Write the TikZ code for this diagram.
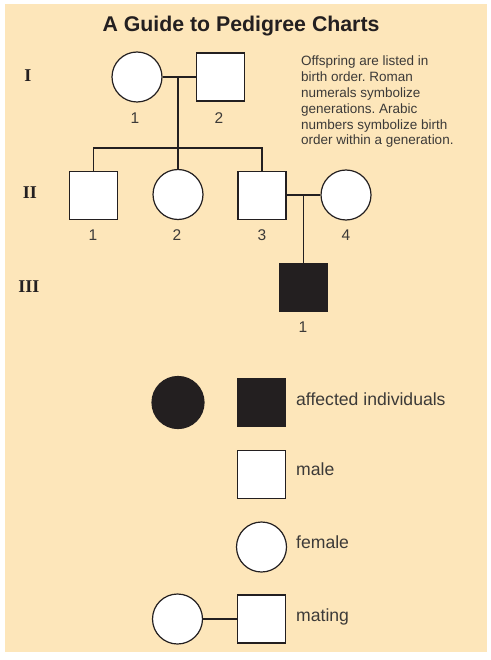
\documentclass[tikz,border=0pt]{standalone}
\usepackage{fontspec}
\setmainfont{Liberation Sans}
\newfontfamily\romanfont{Liberation Serif}
\definecolor{peach}{RGB}{253,230,186}
\definecolor{ink}{RGB}{35,31,32}
\definecolor{txt}{RGB}{60,58,56}
\frenchspacing
\begin{document}
\begin{tikzpicture}[x=1pt,y=-1pt,
  person/.style={draw=ink,line width=1.2pt,fill=white,inner sep=0pt},
  fem/.style={person,circle,minimum size=50pt},
  mal/.style={person,rectangle,minimum size=48pt},
  aff/.style={fill=ink},
  link/.style={draw=ink,line width=1.2pt},
  num/.style={font=\fontsize{15.5}{15.5}\selectfont,text=txt,inner sep=0pt},
  gen/.style={font=\romanfont\bfseries\fontsize{18}{18}\selectfont,text=ink,inner sep=0pt},
  legtxt/.style={font=\fontsize{17.6}{17.6}\selectfont,text=txt,inner sep=0pt,anchor=base west}]
\useasboundingbox (0,0) rectangle (490,660);
\fill[white] (0,0) rectangle (490,660);
\fill[peach] (5,4) rectangle (487,652);
% title
\node[font=\bfseries\fontsize{21.3}{21.3}\selectfont,text=ink,anchor=base,inner sep=0pt] (title) at (241,32) {A Guide to Pedigree Charts};
% note
\node[font=\fontsize{13.5}{15.8}\selectfont,text=txt,align=left,anchor=north west,inner sep=0pt] (note) at (301,56)
 {Offspring are listed in\\birth order. Roman\\numerals symbolize\\generations. Arabic\\numbers symbolize birth\\order within a generation.};
% generation labels
\node[gen] (gI) at (28,76) {I};
\node[gen] (gII) at (30,193) {II};
\node[gen] (gIII) at (29,287) {III};
% generation I
\node[fem] (I1) at (137,77) {};
\node[mal] (I2) at (220.5,77) {};
\node[num] (nI1) at (135,118) {1};
\node[num] (nI2) at (219,118) {2};
% generation II
\node[mal] (II1) at (93.5,195.5) {};
\node[fem] (II2) at (178,194.5) {};
\node[mal] (II3) at (262,195.5) {};
\node[fem] (II4) at (346,195) {};
\node[num] (nII1) at (93,235) {1};
\node[num] (nII2) at (177,235) {2};
\node[num] (nII3) at (262,235) {3};
\node[num] (nII4) at (346,235) {4};
% generation III
\node[mal,aff] (III1) at (303.5,287.5) {};
\node[num] (nIII1) at (303,327) {1};
% connectors
\coordinate (mI) at (178,77);
\coordinate (sib) at (178,148);
\coordinate (mII) at (303.5,195);
\draw[link] (I1.east) -- (I2.west);
\draw[link] (mI) -- (II2.north);
\draw[link] (II1.north) |- (sib) -| (II3.north);
\draw[link] (II3.east |- mII) -- (II4.west);
\draw[link] (mII) -- (III1.north);
% legend
\node[person,circle,minimum size=52pt,aff] (Laf) at (178,402.5) {};
\node[mal,aff] (Lam) at (261.5,402.5) {};
\node[legtxt] (Lat) at (296,405) {affected individuals};
\node[mal] (Lm) at (261.5,474.5) {};
\node[legtxt] (Lmt) at (296,475.5) {male};
\node[fem] (Lf) at (261.5,547) {};
\node[legtxt] (Lft) at (296,548) {female};
\node[fem] (Lmf) at (177.5,619) {};
\node[mal] (Lmm) at (261.5,619) {};
\node[legtxt] (Lmat) at (296,621.5) {mating};
\draw[link] (Lmf.east) -- (Lmm.west);
\end{tikzpicture}
\end{document}
